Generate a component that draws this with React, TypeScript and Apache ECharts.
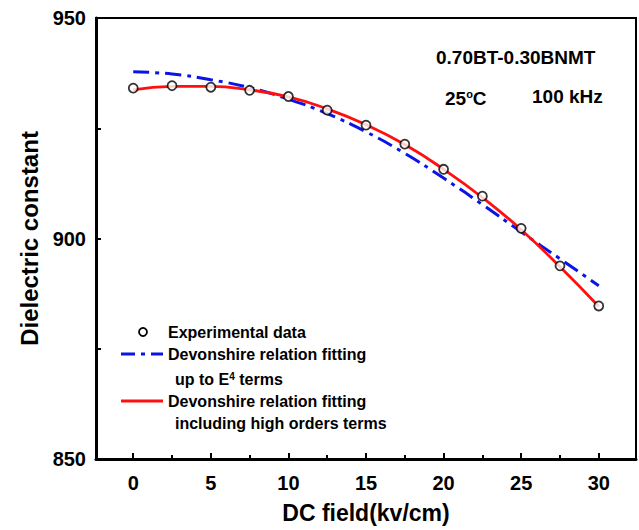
import React, { useEffect, useRef } from 'react';
import * as echarts from 'echarts';

const fieldKv = [0, 2.5, 5, 7.5, 10, 12.5, 15, 17.5, 20, 22.5, 25, 27.5, 30];
const experimentalData = [934.1, 934.65, 934.3, 933.6, 932.2, 929.1, 925.7, 921.4, 915.7, 909.6, 902.3, 893.8, 884.7];
const fitUpToE4 = [937.8, 937.3, 936.0, 934.2, 931.6, 928.3, 924.2, 919.3, 913.7, 907.7, 901.5, 895.4, 889.3];
const fitHighOrder = [933.7, 934.5, 934.5, 933.7, 932.1, 929.4, 925.8, 921.3, 915.7, 909.3, 902.0, 893.6, 884.6];
const xMajorTicks = [0, 5, 10, 15, 20, 25, 30];
const xMinorTicks = [2.5, 7.5, 12.5, 17.5, 22.5, 27.5];
const yLabelValues = [850, 900, 950];

const FONT = "'Liberation Sans', Arial, Helvetica, sans-serif";

const pairs = (ys: number[]) => fieldKv.map((x, i) => [x, ys[i]]);

export default function App() {
  const ref = useRef<HTMLDivElement>(null);

  useEffect(() => {
    if (!ref.current) return;
    const chart = echarts.init(ref.current, null, { renderer: 'svg' });
    const black = '#000';
    const txt = (text: string, x: number, y: number, size: number, extra: any = {}) => ({
      type: 'text',
      x,
      y,
      style: {
        text,
        fill: black,
        fontSize: size,
        fontWeight: 'bold',
        fontFamily: FONT,
        verticalAlign: 'middle',
        align: 'left',
        ...extra,
      },
    });
    const option: any = {
      animation: false,
      backgroundColor: '#fff',
      grid: {
        left: 96,
        right: 3,
        top: 18,
        bottom: 71,
        show: true,
        borderColor: black,
        borderWidth: 2,
        backgroundColor: 'transparent',
      },
      xAxis: [
        {
          type: 'value',
          min: -2.4,
          max: 32.4,
          position: 'bottom',
          axisLine: { show: true, onZero: false, lineStyle: { color: black, width: 3 } },
          axisTick: { show: true, inside: true, length: 6, customValues: xMajorTicks, lineStyle: { color: black, width: 2 } },
          axisLabel: {
            customValues: xMajorTicks,
            color: black,
            fontSize: 20,
            fontWeight: 'bold',
            fontFamily: FONT,
            margin: 14,
          },
          splitLine: { show: false },
          name: 'DC field(kv/cm)',
          nameLocation: 'middle',
          nameGap: 42,
          nameTextStyle: { color: black, fontSize: 23, fontWeight: 'bold', fontFamily: FONT },
        },
        {
          type: 'value',
          min: -2.4,
          max: 32.4,
          position: 'bottom',
          axisLine: { show: false, onZero: false },
          axisTick: { show: true, inside: true, length: 4, customValues: xMinorTicks, lineStyle: { color: black, width: 2 } },
          axisLabel: { show: false },
          splitLine: { show: false },
        },
      ],
      yAxis: {
        type: 'value',
        min: 850,
        max: 950,
        interval: 25,
        axisLine: { show: true, onZero: false, lineStyle: { color: black, width: 3 } },
        axisTick: { show: true, inside: true, length: 5, lineStyle: { color: black, width: 2 } },
        axisLabel: {
          formatter: (v: number) => (yLabelValues.includes(v) ? String(v) : ''),
          color: black,
          fontSize: 20,
          fontWeight: 'bold',
          fontFamily: FONT,
          margin: 10,
        },
        splitLine: { show: false },
        name: 'Dielectric constant',
        nameLocation: 'middle',
        nameGap: 54,
        nameTextStyle: { color: black, fontSize: 24, fontWeight: 'bold', fontFamily: FONT },
      },
      series: [
        {
          name: 'Devonshire relation fitting up to E4 terms',
          type: 'line',
          data: pairs(fitUpToE4),
          smooth: true,
          showSymbol: false,
          lineStyle: { color: '#0a14e6', width: 3, type: [16, 6, 4, 6] },
          z: 2,
        },
        {
          name: 'Devonshire relation fitting including high orders terms',
          type: 'line',
          data: pairs(fitHighOrder),
          smooth: true,
          showSymbol: false,
          lineStyle: { color: '#ff1010', width: 2.8 },
          z: 3,
        },
        {
          name: 'Experimental data',
          type: 'scatter',
          data: pairs(experimentalData),
          symbol: 'circle',
          symbolSize: 9,
          itemStyle: { color: '#fff', borderColor: black, borderWidth: 1.8 },
          z: 4,
        },
      ],
      graphic: [
        txt('0.70BT-0.30BNMT', 436, 57, 19),
        txt('25{o|o}C', 445, 98, 19, {
          rich: { o: { fontSize: 11, fontWeight: 'bold', fontFamily: FONT, fill: black, verticalAlign: 'top' } },
        }),
        txt('100 kHz', 532, 96, 19),
        {
          type: 'circle',
          shape: { cx: 143, cy: 332, r: 4 },
          style: { fill: '#fff', stroke: black, lineWidth: 1.8 },
        },
        txt('Experimental data', 168, 332, 16),
        {
          type: 'line',
          shape: { x1: 121, y1: 354, x2: 163, y2: 354 },
          style: { stroke: '#0a14e6', lineWidth: 3, lineDash: [14, 6, 4, 6] },
        },
        txt('Devonshire relation fitting', 168, 354, 16),
        txt('up to E{s|4} terms', 175, 379, 16, {
          rich: { s: { fontSize: 10, fontWeight: 'bold', fontFamily: FONT, fill: black, verticalAlign: 'top' } },
        }),
        {
          type: 'line',
          shape: { x1: 121, y1: 401, x2: 163, y2: 401 },
          style: { stroke: '#ff1010', lineWidth: 2.8 },
        },
        txt('Devonshire relation fitting', 168, 401, 16),
        txt('including high orders terms', 175, 423, 16),
      ],
    };
    chart.setOption(option);
    return () => chart.dispose();
  }, []);

  return (
    <div
      ref={ref}
      style={{ position: 'fixed', left: 0, top: 0, width: 639, height: 530, background: '#fff' }}
    />
  );
}
